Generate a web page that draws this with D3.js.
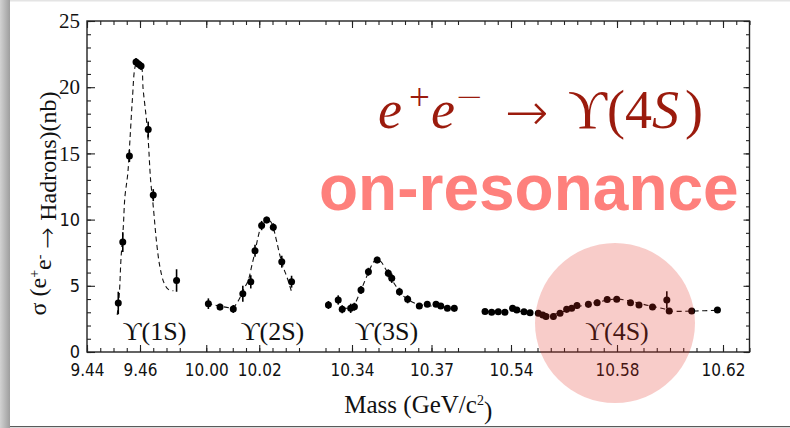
<!DOCTYPE html>
<html>
<head>
<meta charset="utf-8">
<script src="https://d3js.org/d3.v7.min.js"></script>
<style>
  body { margin: 0; background: #fff; }
  svg { display: block; }
</style>
</head>
<body>
<div id="chart"></div>
<script>
// axis segments of the broken mass axis (GeV/c^2)
const segLo = [9.44, 10.00, 10.33, 10.53];
const segHi = [9.475, 10.035, 10.38, 10.63];
const xTickLabels = [9.44, 9.46, 10.00, 10.02, 10.34, 10.37, 10.54, 10.58, 10.62];
const yTickLabels = [0, 5, 10, 15, 20, 25];
const resonances = ["\u03D2(1S)", "\u03D2(2S)", "\u03D2(3S)", "\u03D2(4S)"];
const resonanceMass = [9.4655, 10.025, 10.353, 10.58];

// measured points: [mass, sigma (nb), error]
const pts1S = [[9.4518, 3.7, 0.85], [9.4535, 8.3, 0.75], [9.456, 14.8, 0.45], [9.4585, 21.9, 0.3],
  [9.4594, 21.75, 0.3], [9.4604, 21.6, 0.3], [9.4631, 16.8, 0.6], [9.465, 11.85, 0.45], [9.4738, 5.4, 0.85]];
const pts2S = [[10.0008, 3.65, 0.4], [10.0052, 3.4, 0.25], [10.0102, 3.25, 0.3], [10.0138, 4.4, 0.6],
  [10.0168, 5.3, 0.5], [10.0184, 7.65, 0.45], [10.0209, 9.55, 0.35], [10.0228, 9.97, 0.25],
  [10.0253, 9.42, 0.3], [10.0285, 6.82, 0.45], [10.0322, 5.31, 0.45]];
const pts3S = [[10.3311, 3.55, 0.3], [10.3348, 3.93, 0.35], [10.3363, 3.23, 0.3], [10.3395, 3.3, 0.35],
  [10.3409, 3.42, 0.3], [10.3434, 4.68, 0.3], [10.3462, 6.06, 0.3], [10.3495, 6.95, 0.25],
  [10.3537, 5.94, 0.3], [10.355, 5.57, 0.35], [10.3579, 4.55, 0.3], [10.361, 3.98, 0.3],
  [10.3654, 3.47, 0.2], [10.3684, 3.6, 0.2], [10.3717, 3.6, 0.2], [10.3735, 3.47, 0.2],
  [10.376, 3.3, 0.2], [10.3786, 3.3, 0.25]];
const pts4S = [[10.5302, 3.06, 0.15], [10.5327, 3.0, 0.15], [10.5352, 3.04, 0.15], [10.5377, 3.0, 0.15],
  [10.5406, 3.3, 0.2], [10.5422, 3.17, 0.15], [10.5449, 3.04, 0.15], [10.5472, 2.97, 0.15],
  [10.5503, 2.92, 0.2], [10.552, 2.79, 0.2], [10.5532, 2.68, 0.25], [10.556, 2.68, 0.25],
  [10.5585, 2.92, 0.2], [10.561, 3.22, 0.25], [10.5629, 3.3, 0.2], [10.5649, 3.51, 0.25],
  [10.5692, 3.6, 0.25], [10.5725, 3.72, 0.25], [10.5763, 3.97, 0.2], [10.5799, 3.98, 0.2],
  [10.5851, 3.72, 0.2], [10.5883, 3.55, 0.2], [10.5934, 3.4, 0.2], [10.5988, 3.93, 0.65],
  [10.5997, 3.1, 0.2], [10.6082, 3.1, 0.15], [10.6179, 3.17, 0.15]];

// dashed fit curves: [mass, sigma]
const fit1S = [[9.4514, 2.8], [9.4522, 4.4], [9.4528, 6.95], [9.4537, 9.45], [9.4543, 11.7], [9.4554, 13.5],
  [9.4562, 16.0], [9.4571, 19.0], [9.4581, 21.5], [9.459, 22.0], [9.4604, 21.7], [9.4612, 19.8],
  [9.4623, 17.8], [9.4631, 16.0], [9.464, 13.0], [9.465, 11.0], [9.4663, 8.2], [9.4675, 6.45],
  [9.4691, 5.2], [9.4707, 4.73], [9.4726, 4.63]];
const fit2S = [[10.0004, 3.68], [10.0052, 3.47], [10.01, 3.37], [10.0121, 3.87], [10.014, 4.68],
  [10.0159, 5.44], [10.0171, 6.44], [10.0184, 7.58], [10.0196, 8.71], [10.0209, 9.59], [10.0228, 10.1],
  [10.0247, 9.72], [10.0263, 8.59], [10.0276, 7.45], [10.0291, 6.4], [10.0306, 5.57], [10.0322, 4.55]];
const fit3S = [[10.3363, 3.3], [10.3395, 3.35], [10.3409, 3.6], [10.3434, 4.68], [10.3462, 6.0],
  [10.3483, 6.85], [10.3495, 7.0], [10.351, 6.8], [10.3537, 5.9], [10.3565, 5.0], [10.359, 4.3],
  [10.3625, 3.8], [10.366, 3.55], [10.372, 3.45], [10.378, 3.35]];
const fit4S = [[10.5302, 3.05], [10.54, 3.1], [10.548, 3.0], [10.554, 2.8], [10.5585, 2.95], [10.563, 3.3],
  [10.569, 3.6], [10.576, 3.9], [10.58, 4.0], [10.586, 3.8], [10.592, 3.5], [10.598, 3.25],
  [10.6, 3.1], [10.61, 3.1], [10.6179, 3.15]];

const W = 790, H = 428;
const mLeft = 87, mRight = 749.5, mTop = 21, mBottom = 352;
const gap = 0.01;   // axis room between segments
const minorStep = 0.005;
const serif = "'Liberation Serif', 'DejaVu Serif', serif";
const sans = "'DejaVu Sans Condensed', 'DejaVu Sans', sans-serif";
const arrowFont = "'DejaVu Sans ExtraLight', 'DejaVu Sans', sans-serif";

const svg = d3.select("#chart").append("svg")
  .attr("width", W).attr("height", H);

// slide background with a soft shadow on the left
const defs = svg.append("defs");
const grad = defs.append("linearGradient").attr("id", "shadow");
grad.append("stop").attr("offset", "0").attr("stop-color", "#d2d2d2");
grad.append("stop").attr("offset", "1").attr("stop-color", "#9e9e9e");
svg.append("rect").attr("width", W).attr("height", H).attr("fill", "#fff");
svg.append("rect").attr("width", 10).attr("height", H).attr("fill", "url(#shadow)");
svg.append("rect").attr("x", 10).attr("width", W - 10).attr("height", 1.5).attr("fill", "#e4e4e4");
svg.append("rect").attr("x", 10).attr("y", 426).attr("width", W - 10).attr("height", 1.2).attr("fill", "#5a5a5a");
svg.append("rect").attr("x", 10).attr("y", 427.2).attr("width", W - 10).attr("height", 1).attr("fill", "#d8d8d8");

// piecewise x scale for the broken axis
const virt = [];
let acc = 0;
segLo.forEach((lo, i) => {
  virt.push(acc);
  acc += segHi[i] - lo;
  virt.push(acc);
  acc += gap;
});
const u = d3.scaleLinear().domain([0, virt[virt.length - 1]]).range([mLeft, mRight]);
const breaks = [];
segLo.forEach((lo, i) => { breaks.push(lo, segHi[i]); });
const x = d3.scaleLinear().domain(breaks).range(virt.map(u));
const y = d3.scaleLinear().domain([0, 25]).range([mBottom, mTop]);

const minorX = [];
segLo.forEach((lo, i) => {
  const n = Math.round((segHi[i] - lo) / minorStep);
  for (let k = 0; k <= n; k++) minorX.push(+(lo + k * minorStep).toFixed(3));
});

const g = svg.append("g");

function cleanAxis(sel) {
  sel.select(".domain").remove();
  sel.selectAll(".tick line").attr("stroke", "#222").attr("stroke-width", 1.1);
}

// x axes (bottom with labels, top mirrored)
g.append("g").attr("transform", `translate(0,${mBottom})`)
  .call(d3.axisBottom(x).tickValues(minorX).tickSize(-4).tickSizeOuter(0).tickFormat(""))
  .call(cleanAxis);
g.append("g").attr("transform", `translate(0,${mBottom})`)
  .call(d3.axisBottom(x).tickValues(xTickLabels).tickSize(-7).tickSizeOuter(0).tickPadding(12)
    .tickFormat(d3.format(".2f")))
  .call(cleanAxis)
  .call(s => s.selectAll("text").attr("fill", "#111")
    .style("font-family", sans).style("font-size", "17px"));
g.append("g").attr("transform", `translate(0,${mTop})`)
  .call(d3.axisTop(x).tickValues(minorX).tickSize(-4).tickSizeOuter(0).tickFormat(""))
  .call(cleanAxis);
g.append("g").attr("transform", `translate(0,${mTop})`)
  .call(d3.axisTop(x).tickValues(xTickLabels).tickSize(-7).tickSizeOuter(0).tickFormat(""))
  .call(cleanAxis);

// y axes
const minorY = d3.range(0, 26);
g.append("g").attr("transform", `translate(${mLeft},0)`)
  .call(d3.axisLeft(y).tickValues(minorY).tickSize(-4).tickSizeOuter(0).tickFormat(""))
  .call(cleanAxis);
g.append("g").attr("transform", `translate(${mLeft},0)`)
  .call(d3.axisLeft(y).tickValues(yTickLabels).tickSize(-8).tickSizeOuter(0).tickPadding(7))
  .call(cleanAxis)
  .call(s => s.selectAll("text").attr("fill", "#111")
    .style("font-family", d => d >= 15 ? serif : sans)
    .style("font-size", d => d >= 15 ? "21px" : "18px"));
g.append("g").attr("transform", `translate(${mRight},0)`)
  .call(d3.axisRight(y).tickValues(minorY).tickSize(-3.5).tickSizeOuter(0).tickFormat(""))
  .call(cleanAxis);
g.append("g").attr("transform", `translate(${mRight},0)`)
  .call(d3.axisRight(y).tickValues(yTickLabels).tickSize(-6).tickSizeOuter(0).tickFormat(""))
  .call(cleanAxis);

// frame
g.append("rect")
  .attr("x", mLeft).attr("y", mTop)
  .attr("width", mRight - mLeft).attr("height", mBottom - mTop)
  .attr("fill", "none").attr("stroke", "#222").attr("stroke-width", 1.4);

// fit curves
const line = d3.line().x(d => x(d[0])).y(d => y(d[1])).curve(d3.curveCatmullRom);
[fit1S, fit2S, fit3S, fit4S].forEach(f => {
  g.append("path").datum(f)
    .attr("d", line)
    .attr("fill", "none").attr("stroke", "#111")
    .attr("stroke-width", 1.1).attr("stroke-dasharray", "5,3.5");
});

// data points with error bars
const allPts = [pts1S, pts2S, pts3S, pts4S].flat();
g.selectAll("line.err").data(allPts).enter().append("line")
  .attr("class", "err")
  .attr("x1", d => x(d[0])).attr("x2", d => x(d[0]))
  .attr("y1", d => y(d[1] - d[2])).attr("y2", d => y(d[1] + d[2]))
  .attr("stroke", "#000").attr("stroke-width", 1.6);
g.selectAll("circle.pt").data(allPts).enter().append("circle")
  .attr("class", "pt")
  .attr("cx", d => x(d[0])).attr("cy", d => y(d[1]))
  .attr("r", 3.5).attr("fill", "#000");

// resonance labels
g.selectAll("text.res").data(resonances).enter().append("text")
  .attr("class", "res")
  .attr("x", (d, i) => x(resonanceMass[i]))
  .attr("y", mBottom - 12)
  .attr("text-anchor", "middle")
  .style("font-family", serif)
  .style("font-size", "26px")
  .attr("fill", "#111")
  .text(d => d);

// axis titles
const xt = svg.append("text")
  .attr("x", (mLeft + mRight) / 2).attr("y", 413)
  .attr("text-anchor", "middle")
  .style("font-family", serif).style("font-size", "25px")
  .attr("fill", "#111");
xt.append("tspan").text("Mass (GeV/c");
xt.append("tspan").attr("dy", "-0.55em").style("font-size", "14px").text("2");
xt.append("tspan").attr("dy", "0.55em").text(")");

const yt = svg.append("text")
  .attr("transform", `translate(46,${(mTop + mBottom) / 2 + 17}) rotate(-90)`)
  .attr("text-anchor", "middle")
  .style("font-family", serif).style("font-size", "24px")
  .attr("fill", "#111");
yt.append("tspan").text("\u03C3 (e");
yt.append("tspan").attr("dy", "-0.5em").style("font-size", "14px").text("+");
yt.append("tspan").attr("dy", "0.5em").text("e");
yt.append("tspan").attr("dy", "-0.5em").style("font-size", "14px").text("-");
yt.append("tspan").attr("dy", "0.5em").text(" ");
yt.append("tspan").style("font-family", arrowFont).style("font-weight", 200)
  .style("font-size", "26px").text("\u2192");
yt.append("tspan").text(" Hadrons)(nb)");

// slide annotations
const title = svg.append("text")
  .style("font-family", serif).style("font-size", "54px")
  .attr("fill", "#9b1b0d");
title.append("tspan").attr("x", 378).attr("y", 128).style("font-style", "italic").text("e");
title.append("tspan").attr("x", 409).attr("y", 110).style("font-size", "37px").text("+");
title.append("tspan").attr("x", 431).attr("y", 128).style("font-style", "italic").text("e");
title.append("tspan").attr("x", 455).attr("y", 108)
  .style("font-family", arrowFont).style("font-weight", 200).style("font-size", "34px").text("\u2212");
title.append("tspan").attr("x", 505).attr("y", 130)
  .style("font-family", arrowFont).style("font-weight", 200).style("font-size", "52px").text("\u2192");
title.append("tspan").attr("x", 568).attr("y", 128).text("\u03D2(4");
title.append("tspan").style("font-style", "italic").text("S");
title.append("tspan").attr("x", 685).text(")");

svg.append("text")
  .attr("x", 319).attr("y", 210)
  .style("font-family", "'Liberation Sans', Arial, sans-serif").style("font-size", "64px")
  .style("font-weight", "bold")
  .attr("fill", "#fe807c")
  .text("on-resonance");

// highlight circle over the 4S region
svg.append("circle")
  .attr("cx", x(10.58) - 2).attr("cy", 323).attr("r", 80)
  .attr("fill", "#e32a1c").attr("fill-opacity", 0.24);
</script>
</body>
</html>
